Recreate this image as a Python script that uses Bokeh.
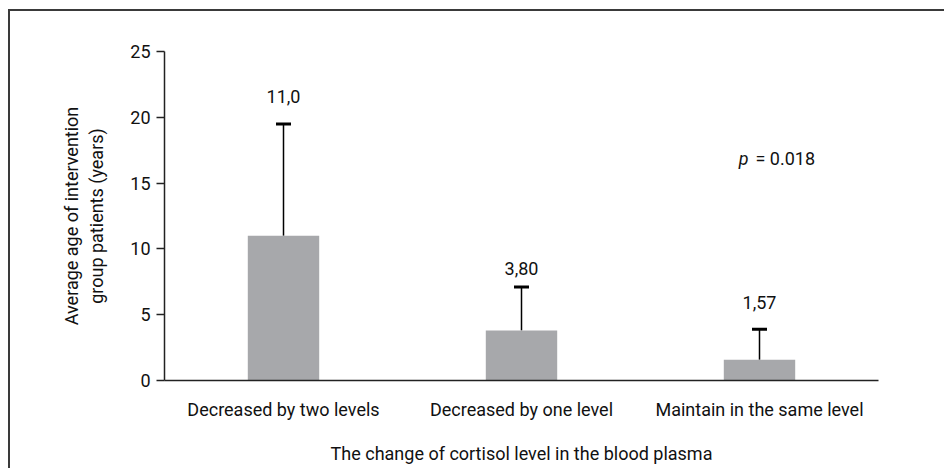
from bokeh.plotting import figure
from bokeh.models import ColumnDataSource, Whisker, TeeHead, FactorRange, Range1d, FixedTicker
from bokeh.core.properties import value
from bokeh.embed import file_html
from bokeh.resources import INLINE

categories = ["Decreased by two levels", "Decreased by one level", "Maintain in the same level"]
means = [11.0, 3.80, 1.57]
upper_err = [19.5, 7.1, 3.9]
value_labels = ["11,0", "3,80", "1,57"]
label_gap = [27, 19, 27]
y_ticks = [0, 5, 10, 15, 20, 25]
p_text = "= 0.018"

FONT = "Roboto"
FS = "18px"

src = ColumnDataSource(dict(cat=categories, mean=means, upper=upper_err,
                            lab=value_labels, gap=[-g for g in label_gap]))

p = figure(x_range=FactorRange(*categories), y_range=Range1d(0, 25),
           width=936, height=459, output_backend="svg", toolbar_location=None,
           min_border_left=154, min_border_right=68, min_border_top=40, min_border_bottom=90)
p.styles = {"margin-left": "8px", "margin-top": "9px",
            "border-left": "2px solid #3a3a3a", "border-top": "2px solid #3a3a3a"}
p.outline_line_color = None
p.xgrid.grid_line_color = None
p.ygrid.grid_line_color = None

p.vbar(x="cat", top="mean", width=0.3, source=src, fill_color="#a7a8ab", line_color=None)
w = Whisker(base="cat", lower="mean", upper="upper", source=src,
            line_color="black", line_width=1.5,
            upper_head=TeeHead(size=15, line_width=3, line_color="black"), lower_head=None)
p.add_layout(w)
p.text(x="cat", y="upper", text="lab", y_offset="gap", source=src,
       text_align="center", text_baseline="middle",
       text_font=value(FONT), text_font_size=FS, text_color="#111")

p.text(x=[categories[2]], y=[16.9], text=["p"], x_offset=-11,
       text_align="right", text_baseline="middle", text_font=value(FONT),
       text_font_style="italic", text_font_size=FS, text_color="#111")
p.text(x=[categories[2]], y=[16.9], text=[p_text], x_offset=-4,
       text_align="left", text_baseline="middle", text_font=value(FONT),
       text_font_size=FS, text_color="#111")

p.yaxis.ticker = FixedTicker(ticks=y_ticks)
p.yaxis.minor_tick_line_color = None
p.yaxis.major_tick_out = 8
p.yaxis.major_tick_in = 0
p.yaxis.major_label_standoff = 6
p.yaxis.axis_label = "Average age of intervention\ngroup patients (years)"
p.yaxis.axis_label_standoff = 20
p.yaxis.axis_label_text_line_height = 1.2

p.xaxis.major_tick_line_color = None
p.xaxis.minor_tick_line_color = None
p.xaxis.major_label_standoff = 12
p.xaxis.axis_label = "The change of cortisol level in the blood plasma"
p.xaxis.axis_label_standoff = 20

for ax in (p.xaxis, p.yaxis):
    ax.axis_line_color = "#222"
    ax.axis_line_width = 1.5
    ax.major_tick_line_width = 1.5
    ax.major_label_text_font = FONT
    ax.major_label_text_font_size = FS
    ax.major_label_text_color = "#111"
    ax.axis_label_text_font = FONT
    ax.axis_label_text_font_size = FS
    ax.axis_label_text_font_style = "normal"
    ax.axis_label_text_color = "#111"
p.yaxis.major_tick_line_color = "#222"

open("out.html", "w").write(file_html(p, INLINE))
